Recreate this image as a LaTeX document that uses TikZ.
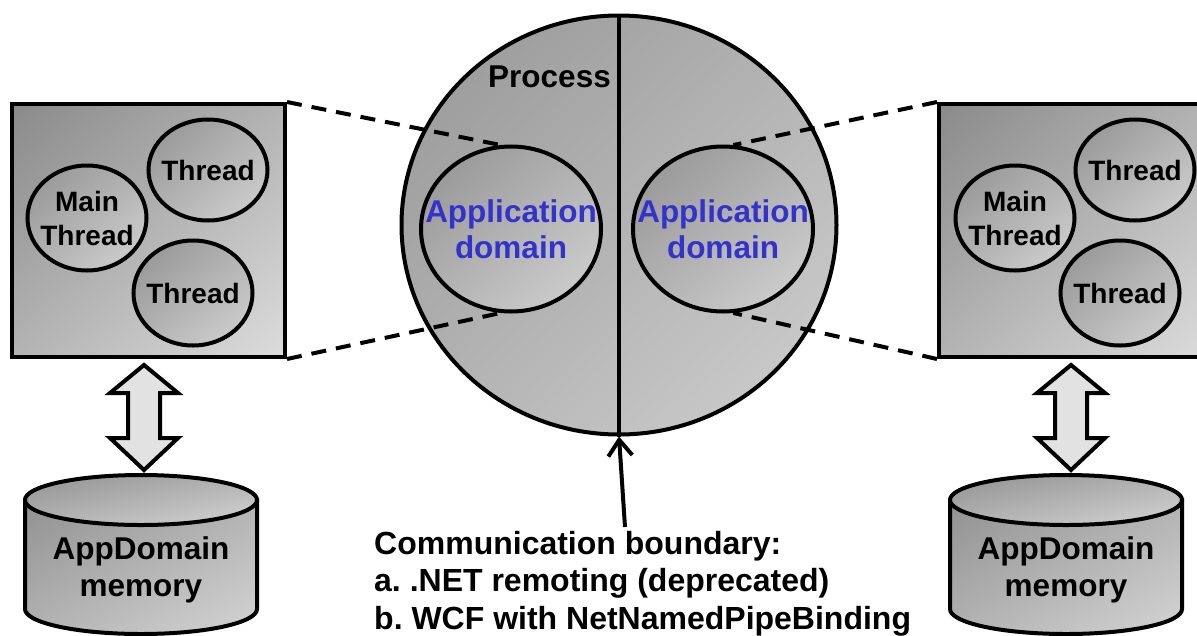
\documentclass[tikz,border=0pt]{standalone}
\usepackage{fontspec}
\setmainfont{Liberation Sans}
\usetikzlibrary{shapes.geometric,arrows.meta,shadings}
\definecolor{adblue}{RGB}{51,51,204}
\definecolor{boxD}{RGB}{138,138,138}
\definecolor{boxL}{RGB}{220,220,220}
\definecolor{thD}{RGB}{145,145,145}
\definecolor{thL}{RGB}{212,212,212}
\definecolor{prD}{RGB}{150,150,150}
\definecolor{prL}{RGB}{208,208,208}
\definecolor{arrF}{RGB}{226,226,226}
\begin{document}
\frenchspacing
\begin{tikzpicture}[x=1pt,y=-1pt,
  grad/.style 2 args={upper left=#1, lower right=#2, upper right=#1!50!#2, lower left=#1!50!#2},
  lw/.style={line width=4pt},
  boxsh/.style={lw, draw, rectangle, minimum width=273pt, minimum height=253pt, inner sep=0pt, grad={boxD}{boxL}},
  thr/.style={lw, draw, ellipse, inner sep=0pt, grad={thD}{thL}},
  thrtxt/.style={align=center, inner sep=0pt, font=\fontsize{28}{34}\selectfont\bfseries},
  adsh/.style={lw, draw, ellipse, inner sep=0pt, minimum width=180pt, minimum height=165pt, grad={thD}{thL}},
  adtxt/.style={align=center, inner sep=0pt, text=adblue, font=\fontsize{31.5}{36}\selectfont\bfseries},
  dsh/.style={lw, dash pattern=on 15pt off 10pt},
  bigtxt/.style={align=center, font=\fontsize{31.5}{37}\selectfont\bfseries},
]
\useasboundingbox (0,0) rectangle (1197,635);
\clip (0,0) rectangle (1197,635);

% process
\node[lw, draw, ellipse, minimum width=435pt, minimum height=419pt, inner sep=0pt, grad={prD}{prL}] (proc) at (619,225) {};
\draw[lw] (proc.north) -- (proc.south);
\node[anchor=base east, inner sep=0pt, font=\fontsize{31.5}{36}\selectfont\bfseries] (ptxt) at (611,87) {Process};

\node[adsh] (ad1) at (511,229) {};
\node[adtxt] (ad1t) at (ad1) {Application\\domain};
\node[adsh] (ad2) at (723,229) {};
\node[adtxt] (ad2t) at (ad2) {Application\\domain};

% boxes
\node[boxsh] (lbox) at (148.5,230.5) {};
\node[boxsh] (rbox) at (1075.5,230.5) {};

\draw[dsh] (lbox.north east) -- (ad1.97);
\draw[dsh] (lbox.south east) -- (ad1.263);
\draw[dsh] (rbox.north west) -- (ad2.83);
\draw[dsh] (rbox.south west) -- (ad2.277);

% threads left
\node[thr, minimum width=119pt, minimum height=105pt] (lmain) at (87,218) {};
\node[thrtxt] (lmaint) at (lmain) {Main\\Thread};
\node[thr, minimum width=119pt, minimum height=101pt] (lt1) at (208,170) {};
\node[thrtxt] (lt1t) at (lt1) {Thread};
\node[thr, minimum width=119pt, minimum height=105pt] (lt2) at (193,293) {};
\node[thrtxt] (lt2t) at (lt2) {Thread};
% threads right
\node[thr, minimum width=119pt, minimum height=105pt] (rmain) at (1015,218) {};
\node[thrtxt] (rmaint) at (rmain) {Main\\Thread};
\node[thr, minimum width=119pt, minimum height=101pt] (rt1) at (1135,170) {};
\node[thrtxt] (rt1t) at (rt1) {Thread};
\node[thr, minimum width=119pt, minimum height=105pt] (rt2) at (1120,293) {};
\node[thrtxt] (rt2t) at (rt2) {Thread};

% double arrows
\foreach \c in {144,1071}{
  \draw[lw, fill=arrF, line join=miter] (\c,365) -- (\c+34,393) -- (\c+16,393) -- (\c+16,438) -- (\c+34,438)
    -- (\c,470) -- (\c-34,438) -- (\c-16,438) -- (\c-16,393) -- (\c-34,393) -- cycle;
}

% cylinders
\foreach \c/\n in {141/l,1066/r}{
  \draw[lw, grad={thD}{thL}] (\c-116,500) -- (\c-116,609) arc[start angle=180, end angle=0, x radius=116, y radius=25]
    -- (\c+116,500) -- cycle;
  \draw[lw, grad={thD}{thL}] (\c,500) ellipse [x radius=116, y radius=25];
  \node[bigtxt] (\n mem) at (\c,569.5) {AppDomain\\memory};
}

% communication boundary
\node[anchor=base west, inner sep=0pt, align=left, font=\fontsize{32}{37.5}\selectfont\bfseries] (comm) at (374,629)
  {Communication boundary:\\a. .NET remoting (deprecated)\\b. WCF with NetNamedPipeBinding};
\coordinate (cbtop) at (625,527);
\draw[lw, -{Straight Barb[length=16pt, width=24pt]}] (cbtop) -- (proc.south);
\end{tikzpicture}
\end{document}
